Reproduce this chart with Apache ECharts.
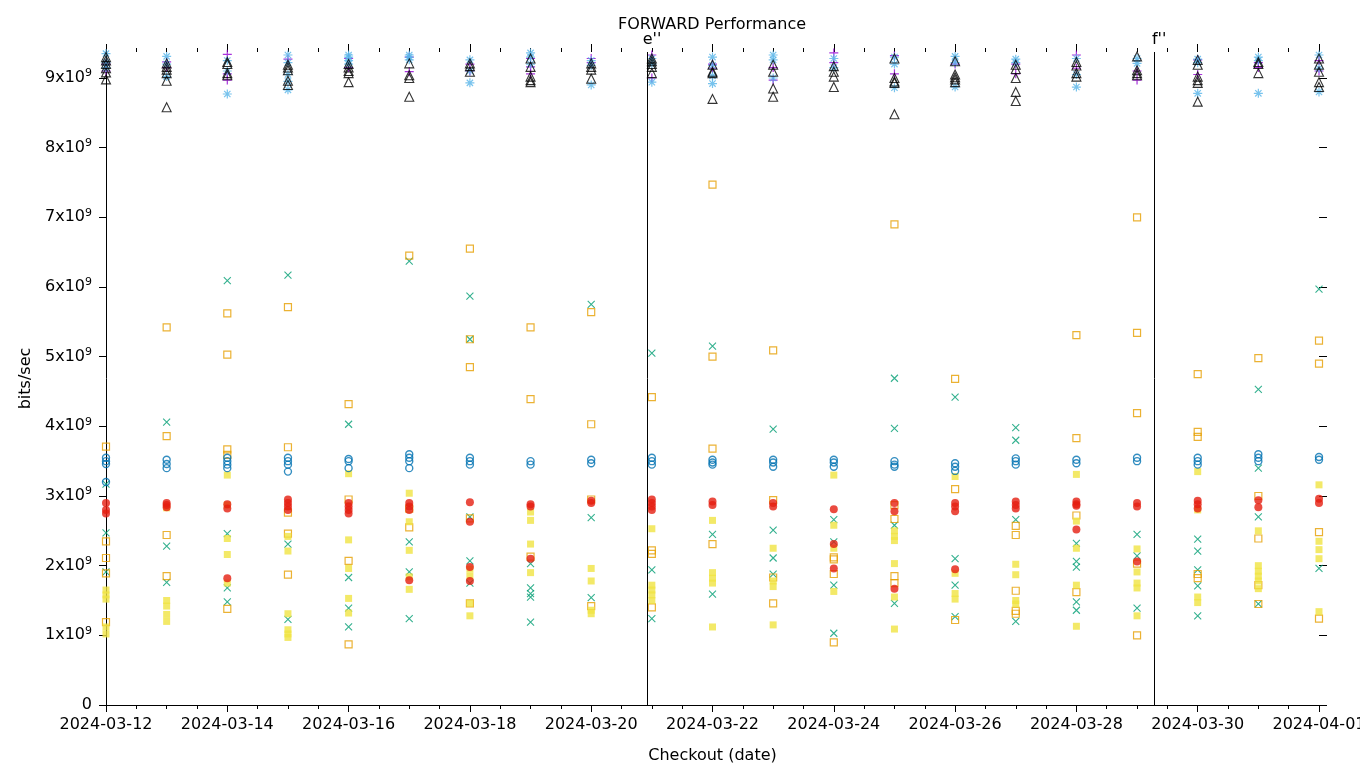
<!DOCTYPE html>
<html>
<head>
<meta charset="utf-8">
<script src="https://cdn.jsdelivr.net/npm/echarts@6/dist/echarts.min.js"></script>
<style>
html,body{margin:0;padding:0;background:#fff;}
#chart{width:1360px;height:768px;}
</style>
</head>
<body>
<div id="chart"></div>
<script>
// Checkout dates (one column of points per date)
const dates = ['2024-03-12','2024-03-13','2024-03-14','2024-03-15','2024-03-16','2024-03-17','2024-03-18',
  '2024-03-19','2024-03-20','2024-03-21','2024-03-22','2024-03-23','2024-03-24','2024-03-25','2024-03-26',
  '2024-03-27','2024-03-28','2024-03-29','2024-03-30','2024-03-31','2024-04-01'];

// values in units of 1x10^9 bits/sec, one list per date
const purplePlus = [[9.1,9.2],[9.23,9.15],[9.34,8.97,9.06],[9.39,9.27],[9.28,9.15],[9.09,9.3],[9.2,9.1],
  [9.28,9.16,9.06],[9.28,9.22],[9.33,9.0],[9.14,9.2],[8.97,9.15],[9.36,9.22],[9.32,9.06],[9.2],
  [9.06,9.2],[9.33,9.14],[8.97,9.1],[9.05,9.26],[9.22,9.15],[9.25,9.1]];
const greenCross = [[3.17,2.47,1.91],[4.06,2.28,1.76],[6.09,2.46,1.68,1.48],[6.17,2.31,1.23],[4.03,1.83,1.39,1.12],
  [6.37,2.34,1.91,1.24],[5.87,5.25,2.7,2.07,1.75],[2.03,1.68,1.6,1.55,1.19],[5.75,2.69,1.54],[5.05,1.94,1.24],
  [5.15,2.45,1.59],[3.96,2.51,2.11,1.88],[2.66,2.34,1.72,1.03],[4.69,3.97,2.58,1.46],[4.42,2.1,1.72,1.27],
  [3.98,3.8,2.66,1.2],[2.32,2.06,1.98,1.48,1.36],[2.45,2.14,1.39],[2.38,2.21,1.94,1.71,1.28],[4.53,3.4,2.7,1.45],
  [5.97,1.96]];
const blueStar = [[9.35,9.22,9.15],[9.31,9.02,9.2],[8.77,9.25,9.1],[9.33,9.22,9.05,8.83,8.95],[9.33,9.3,9.25,9.2],
  [9.33,9.3,9.26],[9.26,9.1,8.93],[9.36,9.3,9.2],[9.25,8.9,9.18],[9.28,9.2,8.94],[9.3,9.03,8.92,9.18],
  [9.33,9.26,9.0],[9.28,9.15],[9.3,9.2,8.86],[9.31,9.22,8.87],[9.27,9.22],[9.28,8.87,9.05],[9.21,9.28],
  [9.27,9.22,8.78],[9.3,9.25,8.78],[9.33,9.14,8.8]];
const orangeSquare = [[3.71,2.35,2.11,1.89,1.19],[5.42,3.86,2.44,1.85],[5.62,5.03,3.67,3.59,1.38],[5.71,3.7,2.76,2.46,1.87],
  [4.32,2.95,2.07,0.87],[6.45,2.82,2.55],[6.55,5.25,4.85,2.68,1.46],[5.42,4.39,2.13],[5.64,4.03,2.95,1.42],
  [4.42,2.22,2.17,1.4],[7.47,5.0,3.68,2.31],[5.09,2.94,1.83,1.46],[2.12,2.09,1.88,0.9],[6.9,2.87,2.67,1.85,1.75],
  [4.68,3.1,1.22],[2.57,2.44,1.64,1.35,1.31],[5.31,3.83,2.72,1.62],[7.0,5.34,4.19,2.03,1.0],[4.75,3.92,3.85,1.88,1.82],
  [4.98,3.0,2.39,1.72,1.45],[5.23,4.9,2.48,1.24]];
const yellowSquare = [[1.65,1.58,1.52,1.12,1.02],[2.83,1.5,1.42,1.3,1.2],[3.3,2.87,2.39,2.16,1.75],[2.42,2.21,1.31,1.08,1.02,0.97],
  [3.32,2.37,1.96,1.53,1.32],[3.04,2.63,2.22,1.84,1.66],[1.95,1.85,1.46,1.28],[2.77,2.65,2.31,1.9],[1.96,1.78,1.36,1.31],
  [2.53,1.72,1.65,1.58,1.5],[2.65,1.9,1.82,1.75,1.12],[2.25,1.78,1.7,1.15],[3.3,2.58,2.25,1.63],[2.5,2.42,2.36,2.03,1.55,1.09],
  [3.28,1.89,1.6,1.52],[2.02,1.87,1.5,1.45],[3.31,2.64,2.25,1.72,1.13],[2.24,1.91,1.75,1.68,1.28],[3.35,2.8,1.55,1.47],
  [2.5,2.0,1.92,1.85,1.78,1.67],[3.16,2.35,2.23,2.1,1.34]];
const blueCircle = [[3.55,3.5,3.46,3.2],[3.52,3.46,3.4],[3.55,3.5,3.45,3.4],[3.55,3.5,3.45,3.35],[3.53,3.5,3.4],
  [3.6,3.55,3.5,3.4],[3.55,3.5,3.45],[3.5,3.45],[3.52,3.47],[3.55,3.5,3.45],[3.52,3.48,3.45],[3.52,3.48,3.42],
  [3.52,3.48,3.42],[3.5,3.45,3.42],[3.47,3.42,3.36],[3.54,3.5,3.45],[3.52,3.47],[3.55,3.5],[3.55,3.5,3.45],
  [3.6,3.55,3.5],[3.56,3.52]];
const redDot = [[2.9,2.8,2.75],[2.9,2.87,2.84],[2.88,2.82,1.82],[2.95,2.9,2.85,2.8],[2.9,2.85,2.8,2.75],
  [2.9,2.85,2.8,1.79],[2.91,2.63,1.98,1.78],[2.88,2.85,2.1],[2.93,2.9],[2.95,2.9,2.85,2.8],[2.92,2.87],[2.9,2.85],
  [2.81,2.31,1.96],[2.9,2.78,1.67],[2.9,2.85,2.78,1.95],[2.92,2.87,2.82],[2.92,2.88,2.86,2.52],[2.9,2.85,2.06],
  [2.93,2.88,2.82],[2.94,2.84],[2.96,2.9]];
const blackTriangle = [[9.3,9.25,9.2,9.14,9.08,8.98],[9.21,9.16,9.12,9.07,8.96,8.58],[9.23,9.2,9.07,9.04],
  [9.19,9.15,9.11,8.96,8.9],[9.2,9.15,9.1,9.07,8.94],[9.21,9.04,9.0,8.73],[9.21,9.17,9.09],[9.28,9.16,9.02,8.97,8.94],
  [9.21,9.16,9.12,8.99],[9.28,9.24,9.2,9.16,9.07],[9.19,9.09,9.07,8.7],[9.19,9.09,8.85,8.73],[9.17,9.09,9.02,8.87],
  [9.28,9.0,8.95,8.93,8.48],[9.24,9.05,9.01,8.98,8.94],[9.19,9.13,9.0,8.8,8.67],[9.23,9.18,9.07,9.02],
  [9.31,9.11,9.07,9.04],[9.26,9.19,9.02,8.97,8.93,8.66],[9.23,9.2,9.07],[9.28,9.19,9.09,8.94,8.87]];

// event markers
const markers = [['2024-03-20T22:05:00Z', "e''"], ['2024-03-29T06:45:00Z', "f''"]];
const yTicks = [0,1,2,3,4,5,6,7,8,9];

const DAY = 86400000;
const xMin = Date.parse(dates[0] + 'T00:00:00Z');
const xMax = Date.parse(dates[dates.length - 1] + 'T00:00:00Z');
const yMax = 9.373;
const FONT = 'DejaVu Sans';

function pts(arr) {
  return arr.flatMap((vals, i) => vals.map(v => [Date.parse(dates[i] + 'T00:00:00Z'), v]));
}
function fmtDate(ms) {
  const d = new Date(ms);
  const p = n => String(n).padStart(2, '0');
  return d.getUTCFullYear() + '-' + p(d.getUTCMonth() + 1) + '-' + p(d.getUTCDate());
}

const SYM_PLUS = 'path://M0,5L10,5M5,0L5,10';
const SYM_CROSS = 'path://M0,0L10,10M10,0L0,10';
const SYM_STAR = 'path://M0,5L10,5M5,0L5,10M1.5,1.5L8.5,8.5M8.5,1.5L1.5,8.5';

function scatter(name, data, symbol, size, style) {
  return {
    name, type: 'scatter', data: pts(data), symbol, symbolSize: size,
    itemStyle: style, emphasis: { disabled: true }, silent: true, animation: false
  };
}

const series = [
  scatter('p1', purplePlus, SYM_PLUS, 9, { color: 'transparent', borderColor: '#9400d3', borderWidth: 1.2 }),
  scatter('p2', greenCross, SYM_CROSS, 7, { color: 'transparent', borderColor: '#009e73', borderWidth: 1.1 }),
  scatter('p3', blueStar, SYM_STAR, 9, { color: 'transparent', borderColor: '#56b4e9', borderWidth: 1.2 }),
  scatter('p4', orangeSquare, 'rect', 7, { color: 'transparent', borderColor: '#e69f00', borderWidth: 1.2 }),
  scatter('p5', yellowSquare, 'rect', 7, { color: '#f0e442' }),
  scatter('p6', blueCircle, 'circle', 7, { color: 'transparent', borderColor: '#0072b2', borderWidth: 1.4 }),
  scatter('p7', redDot, 'circle', 8, { color: '#e51e10' }),
  scatter('p8', blackTriangle, 'triangle', 9, { color: 'transparent', borderColor: '#000000', borderWidth: 1.1 }),
  {
    name: 'markers', type: 'scatter', data: [], silent: true, animation: false,
    markLine: {
      silent: true, symbol: ['none', 'none'], animation: false,
      lineStyle: { color: '#000', width: 1, type: 'solid' },
      label: { show: true, position: 'end', color: '#000', fontFamily: FONT, fontSize: 16, offset: [5, 1],
        formatter: p => p.name },
      emphasis: { disabled: true },
      data: markers.map(m => ({ xAxis: Date.parse(m[0]), name: m[1] }))
    }
  }
];

const chart = echarts.init(document.getElementById('chart'), null, { renderer: 'canvas' });
chart.setOption({
  animation: false,
  backgroundColor: '#fff',
  textStyle: { fontFamily: FONT },
  title: {
    text: 'FORWARD Performance', left: 618, top: 17, padding: 0,
    textStyle: { fontFamily: FONT, fontSize: 16, fontWeight: 'normal', color: '#000' }
  },
  grid: { left: 106, right: 41, top: 52, bottom: 63, containLabel: false, outerBoundsMode: 'none' },
  xAxis: [
    {
      type: 'value', position: 'bottom', min: xMin, max: xMax, interval: 2 * DAY,
      name: 'Checkout (date)', nameLocation: 'middle', nameGap: 43,
      nameTextStyle: { fontFamily: FONT, fontSize: 16, color: '#000' },
      axisLine: { show: true, onZero: false, lineStyle: { color: '#000', width: 1 } },
      axisTick: { show: true, inside: false, length: 7, lineStyle: { color: '#000' } },
      minorTick: { show: true, splitNumber: 4, length: 4, lineStyle: { color: '#000' } },
      axisLabel: { show: true, margin: 12, color: '#000', fontFamily: FONT, fontSize: 16, formatter: v => fmtDate(v) },
      splitLine: { show: false }
    },
    {
      type: 'value', position: 'top', min: xMin, max: xMax, interval: 2 * DAY,
      axisLine: { show: false, onZero: false },
      axisTick: { show: true, inside: false, length: 8, lineStyle: { color: '#000' } },
      minorTick: { show: true, splitNumber: 4, length: 4, lineStyle: { color: '#000' } },
      axisLabel: { show: false },
      splitLine: { show: false }
    }
  ],
  yAxis: [
    {
      type: 'value', position: 'left', min: 0, max: yMax, interval: 1,
      name: 'bits/sec', nameLocation: 'middle', nameGap: 72, nameRotate: 90,
      nameTextStyle: { fontFamily: FONT, fontSize: 16, color: '#000' },
      axisLine: { show: true, onZero: false, lineStyle: { color: '#000', width: 1 } },
      axisTick: { show: true, inside: false, length: 7, customValues: yTicks, lineStyle: { color: '#000' } },
      axisLabel: {
        show: true, margin: 14, color: '#000', fontFamily: FONT, fontSize: 16, customValues: yTicks,
        formatter: v => v === 0 ? '{a|0}' : '{a|' + v + 'x10}{s|9}',
        rich: {
          a: { fontFamily: FONT, fontSize: 16, color: '#000' },
          s: { fontFamily: FONT, fontSize: 11, color: '#000', padding: [0, 0, 9, 0] }
        }
      },
      splitLine: { show: false }
    },
    {
      type: 'value', position: 'right', min: 0, max: yMax, interval: 1,
      axisLine: { show: false, onZero: false },
      axisTick: { show: true, inside: false, length: 8, customValues: yTicks, lineStyle: { color: '#000' } },
      axisLabel: { show: false },
      splitLine: { show: false }
    }
  ],
  series
});
</script>
</body>
</html>
